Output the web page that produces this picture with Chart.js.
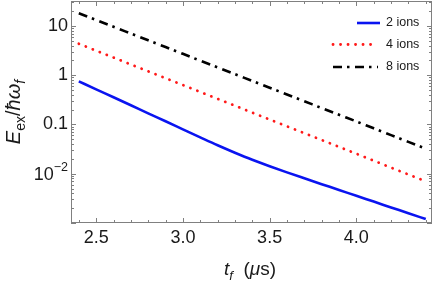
<!DOCTYPE html>
<html>
<head>
<meta charset="utf-8">
<script src="https://cdn.jsdelivr.net/npm/chart.js@4.4.1/dist/chart.umd.min.js"></script>
<style>
  html, body { margin: 0; padding: 0; background: #fff; }
  #wrap { width: 436px; height: 282px; }
</style>
</head>
<body>
<div id="wrap"><canvas id="chart" width="436" height="282"></canvas></div>
<script>
// t_f in microseconds
const tf = [2.4, 2.5, 2.6, 2.7, 2.8, 2.9, 3.0, 3.1, 3.2, 3.3, 3.4, 3.5, 3.6, 3.7, 3.8, 3.9, 4.0, 4.1, 4.2, 4.3, 4.4];
// E_ex / hbar omega_f
const ions2 = [0.750, 0.516, 0.356, 0.245, 0.168, 0.116, 0.0796, 0.0547, 0.0378, 0.0267, 0.0192,
               0.01419, 0.01064, 0.00807, 0.00614, 0.00469, 0.00356, 0.00272, 0.00207, 0.00158, 0.00120];
const ions4 = [4.33, 3.14, 2.28, 1.65, 1.20, 0.868, 0.630, 0.456, 0.331, 0.240, 0.174,
               0.126, 0.0916, 0.0665, 0.0482, 0.0350, 0.0254, 0.0184, 0.0133, 0.00967, 0.00702];
const ions8 = [18.07, 13.18, 9.59, 7.00, 5.11, 3.72, 2.71, 1.97, 1.44, 1.05, 0.764,
               0.557, 0.406, 0.296, 0.215, 0.157, 0.115, 0.0834, 0.0608, 0.0443, 0.0323];

const seriesNames = ['2 ions', '4 ions', '8 ions'];
const xTicks = [2.5, 3.0, 3.5, 4.0];
const xTickLabels = ['2.5', '3.0', '3.5', '4.0'];
const yTicks = [10, 1, 0.1, 0.01];
const yTickLabels = [['10'], ['1'], ['0.1'], ['10', '\u22122']];

const FONT = '"Liberation Sans", Arial, sans-serif';
const FRAME = '#808080';

function toPoints(arr) {
    return tf.map((x, i) => ({ x: x, y: arr[i] }));
}

// draws a run of text pieces (italic / subscript / superscript) centred on (cx, cy)
function drawRich(ctx, parts, cx, cy, size) {
    const widths = parts.map(p => {
        const s = (p.sub || p.sup) ? size * 0.7 : size;
        ctx.font = (p.it ? 'italic ' : '') + s + 'px ' + FONT;
        return ctx.measureText(p.t).width;
    });
    const total = widths.reduce((a, b) => a + b, 0);
    let x = cx - total / 2;
    ctx.textBaseline = 'alphabetic';
    ctx.textAlign = 'left';
    parts.forEach((p, i) => {
        const s = (p.sub || p.sup) ? size * 0.7 : size;
        ctx.font = (p.it ? 'italic ' : '') + s + 'px ' + FONT;
        let dy = 0;
        if (p.sub) dy = size * 0.25;
        if (p.sup) dy = -size * 0.42;
        ctx.fillText(p.t, x, cy + size * 0.36 + dy);
        x += widths[i];
    });
}

const framePlugin = {
    id: 'framePlugin',
    afterDraw(chart) {
        const ctx = chart.ctx;
        const a = chart.chartArea;
        const xs = chart.scales.x;
        const ys = chart.scales.y;
        ctx.save();
        ctx.strokeStyle = FRAME;
        ctx.lineWidth = 1;
        ctx.strokeRect(Math.round(a.left) + 0.5, Math.round(a.top) + 0.5,
                       Math.round(a.right - a.left) - 1, Math.round(a.bottom - a.top) - 1);

        // x ticks, top and bottom
        ctx.beginPath();
        for (let v = 2.4; v <= 4.41; v += 0.1) {
            const px = Math.round(xs.getPixelForValue(v)) + 0.5;
            const major = xTicks.some(t => Math.abs(t - v) < 1e-6);
            const len = major ? 5 : 3;
            ctx.moveTo(px, a.bottom); ctx.lineTo(px, a.bottom - len);
            ctx.moveTo(px, a.top); ctx.lineTo(px, a.top + len);
        }
        // y ticks, left and right
        for (let e = -3; e <= 1; e++) {
            for (let m = 1; m <= 9; m++) {
                const v = m * Math.pow(10, e);
                if (v < ys.min || v > ys.max) continue;
                const py = Math.round(ys.getPixelForValue(v)) + 0.5;
                const len = m === 1 ? 5 : 3;
                ctx.moveTo(a.left, py); ctx.lineTo(a.left + len, py);
                ctx.moveTo(a.right, py); ctx.lineTo(a.right - len, py);
            }
        }
        ctx.stroke();

        // tick labels
        ctx.fillStyle = '#1a1a1a';
        ctx.font = '18px ' + FONT;
        ctx.textAlign = 'center';
        ctx.textBaseline = 'middle';
        xTicks.forEach((v, i) => {
            ctx.fillText(xTickLabels[i], xs.getPixelForValue(v), 238);
        });
        ctx.textAlign = 'right';
        yTicks.forEach((v, i) => {
            const py = ys.getPixelForValue(v);
            const lab = yTickLabels[i];
            if (lab.length === 1) {
                ctx.font = '18px ' + FONT;
                ctx.fillText(lab[0], 68, py);
            } else {
                ctx.font = '12.5px ' + FONT;
                const w2 = ctx.measureText(lab[1]).width;
                ctx.fillText(lab[1], 68, py - 6);
                ctx.font = '18px ' + FONT;
                ctx.fillText(lab[0], 68 - w2, py + 1);
            }
        });

        // axis titles
        drawRich(ctx, [
            { t: 't', it: true }, { t: 'f', it: true, sub: true },
            { t: '  (' }, { t: '\u03bc', it: true }, { t: 's)' }
        ], 250, 268, 19);

        ctx.save();
        ctx.translate(13, 112);
        ctx.rotate(-Math.PI / 2);
        drawRich(ctx, [
            { t: 'E', it: true }, { t: 'ex', sub: true }, { t: '/' },
            { t: '\u0127', it: true }, { t: '\u03c9', it: true }, { t: 'f', it: true, sub: true }
        ], 0, 0, 20);
        ctx.restore();

        // legend
        const legY = [23, 44.5, 67];
        chart.data.datasets.forEach((ds, i) => {
            const x1 = i === 0 ? 357 : 333;
            const x2 = i === 0 ? 380 : 378;
            ctx.save();
            ctx.strokeStyle = ds.borderColor;
            ctx.lineWidth = ds.borderWidth;
            ctx.lineCap = ds.borderCapStyle || 'butt';
            ctx.setLineDash(ds.borderDash || []);
            ctx.beginPath();
            ctx.moveTo(x1, legY[i]);
            ctx.lineTo(x2, legY[i]);
            ctx.stroke();
            ctx.restore();
            ctx.fillStyle = '#1a1a1a';
            ctx.font = '12.5px ' + FONT;
            ctx.textAlign = 'left';
            ctx.textBaseline = 'middle';
            ctx.fillText(seriesNames[i], 386, legY[i]);
        });
        ctx.restore();
    }
};

const ctx = document.getElementById('chart').getContext('2d');
const chart = new Chart(ctx, {
    type: 'line',
    data: {
        datasets: [
            {
                label: seriesNames[0],
                data: toPoints(ions2),
                borderColor: '#0a14f0',
                borderWidth: 2.6,
                pointRadius: 0,
                cubicInterpolationMode: 'monotone'
            },
            {
                label: seriesNames[1],
                data: toPoints(ions4),
                borderColor: '#ff1a1a',
                borderWidth: 2.8,
                borderDash: [0.1, 7.4],
                borderCapStyle: 'round',
                pointRadius: 0,
                cubicInterpolationMode: 'monotone'
            },
            {
                label: seriesNames[2],
                data: toPoints(ions8),
                borderColor: '#000000',
                borderWidth: 2.6,
                borderDash: [9, 5, 2.5, 5.5],
                pointRadius: 0,
                cubicInterpolationMode: 'monotone'
            }
        ]
    },
    options: {
        responsive: false,
        devicePixelRatio: 1,
        animation: false,
        layout: { padding: { left: 71, top: 1, right: 4, bottom: 59 } },
        plugins: {
            legend: { display: false },
            tooltip: { enabled: false }
        },
        scales: {
            x: { type: 'linear', display: false, min: 2.355, max: 4.436 },
            y: { type: 'logarithmic', display: false, min: 0.001, max: 32 }
        }
    },
    plugins: [framePlugin]
});
</script>
</body>
</html>
